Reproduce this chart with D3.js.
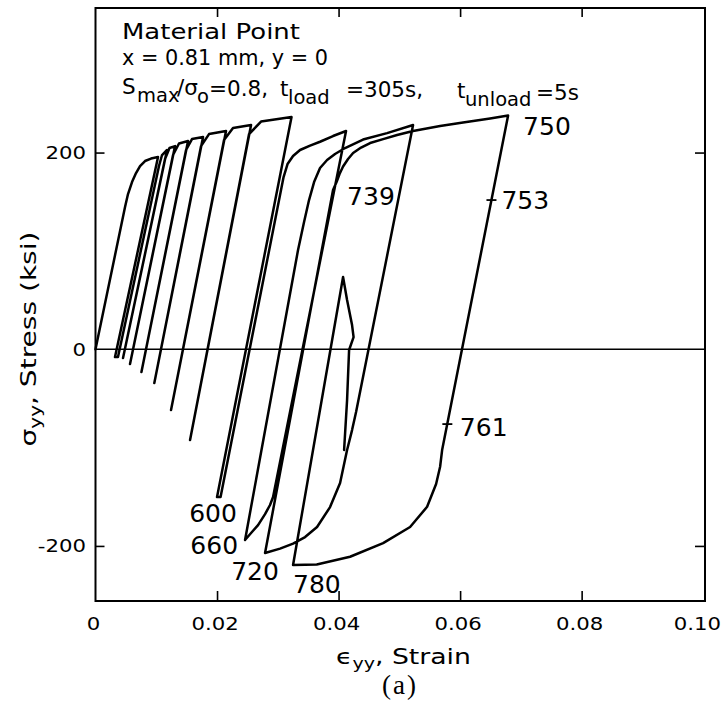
<!DOCTYPE html>
<html>
<head>
<meta charset="utf-8">
<script src="https://cdn.jsdelivr.net/npm/d3@7"></script>
<style>
  html, body { margin: 0; padding: 0; background: #fff; }
  svg { display: block; }
  text { font-family: "DejaVu Sans", sans-serif; fill: #000; }
</style>
</head>
<body>
<svg id="chart" width="723" height="715"></svg>
<script>
// ---- data: strain (in/in), stress (ksi) ----
const firstLoading = [
  [0, 0], [0.00486, 144.6], [0.00535, 157.8], [0.00601, 170.0], [0.00667, 179.2],
  [0.00733, 186.3], [0.00815, 191.4], [0.00914, 193.9], [0.01029, 195.4]
];
// early cycles: valley, reload, envelope, next peak ...
const earlyCycles = [
  [0.00321, -7.9], [0.00370, -7.9], [0.01045, 186.3], [0.01095, 197.5], [0.01177, 202.6],
  [0.00453, -8.9], [0.01144, 193.4], [0.01218, 204.6], [0.01309, 206.6],
  [0.00568, -15.0], [0.01276, 197.5], [0.01374, 209.2], [0.01523, 211.7],
  [0.00756, -23.2], [0.01490, 202.6], [0.01588, 213.7], [0.01770, 215.8],
  [0.00968, -34.4], [0.01737, 206.6], [0.01868, 218.8], [0.02148, 221.9],
  [0.01243, -61.8], [0.02115, 212.7], [0.02263, 224.9], [0.02560, 228.0],
  [0.01556, -92.3], [0.02527, 218.8], [0.02724, 231.5], [0.03226, 236.1],
  [0.02000, -150.3]
];
const loop600 = [
  [0.02058, -150.3], [0.03095, 175.1], [0.03160, 188.3], [0.03251, 196.5], [0.03366, 202.6],
  [0.03531, 207.1], [0.03695, 211.0], [0.03909, 216.8], [0.04123, 221.9],
  [0.02922, -150.3], [0.02872, -158.4], [0.02790, -167.6], [0.02675, -178.8],
  [0.02560, -186.9], [0.02461, -194.0]
];
const loop660 = [
  [0.03333, 100.9], [0.03432, 129.3], [0.03514, 151.7], [0.03597, 170.0], [0.03695, 184.3],
  [0.03811, 192.4], [0.03942, 198.5], [0.04107, 204.6], [0.04403, 213.2], [0.04798, 219.8],
  [0.05226, 228.0],
  [0.04288, -63.9], [0.04222, -82.2], [0.04140, -102.5], [0.04025, -136.1], [0.03860, -160.5],
  [0.03646, -180.8], [0.03449, -191.0], [0.03251, -197.6], [0.03037, -202.7], [0.02790, -207.2]
];
const loop720 = [
  [0.03909, 161.9], [0.03967, 170.0], [0.04016, 178.2], [0.04074, 185.8], [0.04156, 193.4],
  [0.04239, 199.5], [0.04370, 205.1], [0.04519, 209.7], [0.04733, 213.7], [0.04963, 217.8],
  [0.05226, 221.9], [0.05671, 227.0], [0.06049, 230.5], [0.06494, 234.6], [0.06790, 237.6],
  [0.05704, -102.5], [0.05671, -119.5], [0.05605, -137.1], [0.05457, -160.2], [0.05177, -180.8],
  [0.04733, -197.1], [0.04189, -211.0], [0.03641, -218.9], [0.03251, -219.4]
];
const loop780 = [
  [0.04074, 73.4], [0.04140, 50.0], [0.04222, 24.6], [0.04247, 12.4], [0.04173, -0.8],
  [0.04140, -51.7], [0.04091, -102.5]
];

// time stamps (s) along the response
const timeLabels = ["600", "660", "720", "780", "739", "750", "753", "761"];
const timeStrain = [0.02000, 0.02461, 0.02790, 0.03251, 0.03967, 0.06790, 0.06516, 0.05790];
const timeStress = [-150.3, -194.0, -207.2, -219.4, 170.0, 237.6, 151.7, -76.1];
const tickedTimes = ["753", "761"];

const xTickValues = [0, 0.02, 0.04, 0.06, 0.08, 0.10];
const xTickLabels = ["0", "0.02", "0.04", "0.06", "0.08", "0.10"];
const yTickValues = [-200, 0, 200];
const yTickLabels = ["-200", "0", "200"];

// ---- layout ----
const svg = d3.select("#chart");
const frame = { left: 95.5, right: 705, top: 8, bottom: 601 };
const x = d3.scaleLinear().domain([0, 0.1003]).range([frame.left, frame.right]);
const y = d3.scaleLinear().domain([-256, 347]).range([frame.bottom, frame.top]);

// text helper: optional horizontal stretch so the face matches a target width
function addText(parent, o) {
  const g = parent.append("g")
    .attr("transform", `translate(${o.x},${o.y})` + (o.rotate ? ` rotate(${o.rotate})` : ""));
  const inner = g.append("g");
  const t = inner.append("text")
    .attr("text-anchor", o.anchor || "start")
    .style("font-size", o.size + "px");
  if (o.family) t.style("font-family", o.family);
  if (o.spacing) t.style("letter-spacing", o.spacing + "px");
  if (o.parts) {
    o.parts.forEach(p => {
      const ts = t.append("tspan").text(p.t);
      if (p.size) ts.style("font-size", p.size + "px");
      if (p.dy) ts.attr("dy", p.dy);
    });
  } else {
    t.text(o.text);
  }
  let sx = o.sx || 1;
  if (o.width) sx = o.width / t.node().getBBox().width;
  inner.attr("transform", `scale(${sx},1)`);
  return t;
}

// frame
svg.append("rect")
  .attr("x", frame.left).attr("y", frame.top)
  .attr("width", frame.right - frame.left).attr("height", frame.bottom - frame.top)
  .attr("fill", "none").attr("stroke", "#000").attr("stroke-width", 2);

// zero-stress line
svg.append("line")
  .attr("x1", frame.left).attr("x2", frame.right)
  .attr("y1", y(0)).attr("y2", y(0))
  .attr("stroke", "#000").attr("stroke-width", 1.6);

// inward tick marks on all four sides
function ticks(axis, tx, ty) {
  const g = svg.append("g").attr("transform", `translate(${tx},${ty})`).call(axis);
  g.select(".domain").remove();
  g.selectAll("line").attr("stroke", "#000").attr("stroke-width", 1.6);
  g.selectAll("text").remove();
}
const innerX = xTickValues.slice(1, -1);
ticks(d3.axisBottom(x).tickValues(innerX).tickSize(-10).tickFormat(""), 0, frame.bottom);
ticks(d3.axisTop(x).tickValues(innerX).tickSize(-9).tickFormat(""), 0, frame.top);
ticks(d3.axisLeft(y).tickValues([-200, 200]).tickSize(-9).tickFormat(""), frame.left, 0);
ticks(d3.axisRight(y).tickValues([-200, 200]).tickSize(-10).tickFormat(""), frame.right, 0);

// tick labels
xTickValues.forEach((v, i) => {
  const last = i === xTickValues.length - 1;
  addText(svg, {
    x: last ? 721 : x(v) - 2, y: 630, text: xTickLabels[i],
    anchor: last ? "end" : "middle", size: 18, sx: 1.18
  });
});
yTickValues.forEach((v, i) => {
  addText(svg, { x: 86, y: y(v) + 6.5, text: yTickLabels[i], anchor: "end", size: 18, sx: 1.18 });
});

// axis titles
addText(svg, {
  x: 336, y: 664, anchor: "start", size: 21, width: 135,
  parts: [{ t: "ϵ" }, { t: "yy", size: 15, dy: 5 }, { t: ", Strain", dy: -5 }]
});
addText(svg, {
  x: 400, y: 694, anchor: "middle", size: 27, family: "'Liberation Serif', serif",
  spacing: 2, text: "(a)"
});
addText(svg, {
  x: 36, y: 339, rotate: -90, anchor: "middle", size: 21, width: 215,
  parts: [{ t: "σ" }, { t: "yy", size: 15, dy: 5 }, { t: ", Stress (ksi)", dy: -5 }]
});

// annotation block
addText(svg, { x: 122, y: 38.5, text: "Material Point", size: 21.5, width: 178 });
addText(svg, { x: 122, y: 65, text: "x = 0.81 mm, y = 0", size: 21.5, width: 206 });
const note = svg.append("text").style("font-size", "21.5px");
[
  { t: "S", x: 122, y: 94 },
  { t: "max", x: 137, y: 102, sub: true },
  { t: "/σ", x: 177, y: 94.5 },
  { t: "o", x: 197, y: 103, sub: true },
  { t: "=0.8,", x: 209, y: 96 },
  { t: "t", x: 280, y: 96 },
  { t: "load", x: 288, y: 103.5, sub: true },
  { t: "=305s,", x: 346, y: 97 },
  { t: "t", x: 457, y: 98 },
  { t: "unload", x: 465, y: 105.5, sub: true },
  { t: "=5s", x: 536, y: 99.5 }
].forEach(p => {
  const ts = note.append("tspan").attr("x", p.x).attr("y", p.y).text(p.t);
  if (p.sub) ts.style("font-size", "19.5px");
});

// stress-strain path
const response = [].concat(firstLoading, earlyCycles, loop600, loop660, loop720, loop780);
const line = d3.line().x(d => x(d[0])).y(d => y(d[1]));
svg.append("path")
  .datum(response)
  .attr("d", line)
  .attr("fill", "none")
  .attr("stroke", "#000")
  .attr("stroke-width", 2.5)
  .attr("stroke-linejoin", "round")
  .attr("stroke-linecap", "round");

// time stamps
const labelPlacement = {
  "600": { dx: -4, dy: 25, anchor: "middle" },
  "660": { dx: -7, dy: 14, anchor: "end" },
  "720": { dx: -10, dy: 27, anchor: "middle" },
  "780": { dx: 0, dy: 28, anchor: "start" },
  "739": { dx: 10.5, dy: 23, anchor: "start" },
  "750": { dx: 15, dy: 19.5, anchor: "start" },
  "753": { dx: 10, dy: 9, anchor: "start" },
  "761": { dx: 12.5, dy: 12, anchor: "start" }
};
timeLabels.forEach((lab, i) => {
  const px = x(timeStrain[i]), py = y(timeStress[i]);
  const p = labelPlacement[lab];
  if (tickedTimes.includes(lab)) {
    svg.append("line")
      .attr("x1", px - 5).attr("x2", px + 5).attr("y1", py).attr("y2", py)
      .attr("stroke", "#000").attr("stroke-width", 1.8);
  }
  addText(svg, { x: px + p.dx, y: py + p.dy, text: lab, anchor: p.anchor, size: 25 });
});
</script>
</body>
</html>
